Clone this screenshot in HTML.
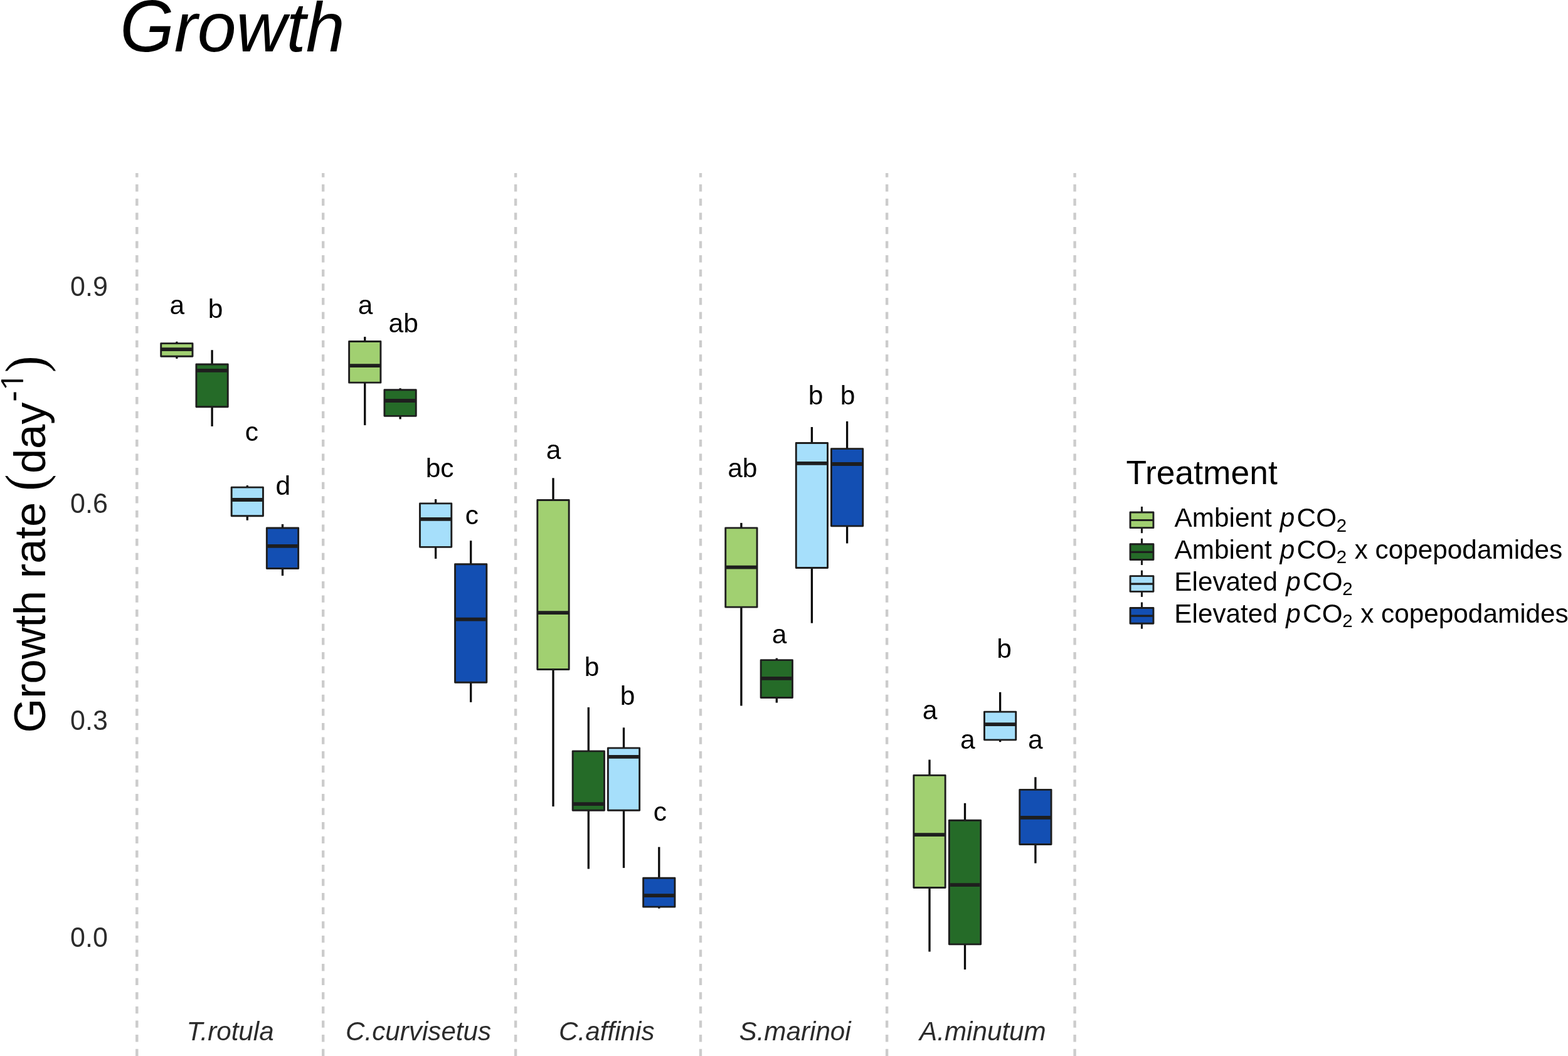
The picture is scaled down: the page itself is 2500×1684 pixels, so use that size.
<!DOCTYPE html>
<html><head><meta charset="utf-8"><title>Growth</title>
<style>html,body{margin:0;padding:0;background:#fff;width:2500px;height:1684px;overflow:hidden}svg{display:block}</style>
</head><body>
<svg width="2500" height="1684" viewBox="0 0 2500 1684">
<rect x="0" y="0" width="2500" height="1684" fill="#FFFFFF"/>
<text x="191.2" y="82.2" font-family='"Liberation Sans", Arial, Helvetica, sans-serif' font-style="italic" font-size="111.2" fill="#000"><tspan font-size="116.2" textLength="86.49" lengthAdjust="spacingAndGlyphs">G</tspan>rowth</text>
<line x1="218.3" y1="276.1" x2="218.3" y2="1700" stroke="#CCCCCC" stroke-width="4.4" stroke-dasharray="11.3 11.3" stroke-dashoffset="4.6"/>
<line x1="515.2" y1="276.1" x2="515.2" y2="1700" stroke="#CCCCCC" stroke-width="4.4" stroke-dasharray="11.3 11.3" stroke-dashoffset="4.6"/>
<line x1="822.1" y1="276.1" x2="822.1" y2="1700" stroke="#CCCCCC" stroke-width="4.4" stroke-dasharray="11.3 11.3" stroke-dashoffset="4.6"/>
<line x1="1117.0" y1="276.1" x2="1117.0" y2="1700" stroke="#CCCCCC" stroke-width="4.4" stroke-dasharray="11.3 11.3" stroke-dashoffset="4.6"/>
<line x1="1414.1" y1="276.1" x2="1414.1" y2="1700" stroke="#CCCCCC" stroke-width="4.4" stroke-dasharray="11.3 11.3" stroke-dashoffset="4.6"/>
<line x1="1713.6" y1="276.1" x2="1713.6" y2="1700" stroke="#CCCCCC" stroke-width="4.4" stroke-dasharray="11.3 11.3" stroke-dashoffset="4.6"/>
<text transform="translate(171.8,471.50) scale(1,1.05)" x="0" y="0" text-anchor="end" font-family='"Liberation Sans", Arial, Helvetica, sans-serif' font-size="43" fill="#2B2B2B">0.9</text>
<text transform="translate(171.8,817.70) scale(1,1.05)" x="0" y="0" text-anchor="end" font-family='"Liberation Sans", Arial, Helvetica, sans-serif' font-size="43" fill="#2B2B2B">0.6</text>
<text transform="translate(171.8,1163.90) scale(1,1.05)" x="0" y="0" text-anchor="end" font-family='"Liberation Sans", Arial, Helvetica, sans-serif' font-size="43" fill="#2B2B2B">0.3</text>
<text transform="translate(171.8,1510.10) scale(1,1.05)" x="0" y="0" text-anchor="end" font-family='"Liberation Sans", Arial, Helvetica, sans-serif' font-size="43" fill="#2B2B2B">0.0</text>
<line x1="281.85" y1="544.8" x2="281.85" y2="547.6500000000001" stroke="#0A0A0A" stroke-width="3.3"/>
<line x1="281.85" y1="568.3" x2="281.85" y2="571.9" stroke="#0A0A0A" stroke-width="3.3"/>
<rect x="256.70" y="547.65" width="50.30" height="20.65" fill="#A1D071" stroke="#1E1E1E" stroke-width="2.9" stroke-linejoin="round"/>
<line x1="256.70" y1="557.1" x2="307.00" y2="557.1" stroke="#1E1E1E" stroke-width="5.8"/>
<line x1="338.1" y1="558.2" x2="338.1" y2="580.95" stroke="#0A0A0A" stroke-width="3.3"/>
<line x1="338.1" y1="648.75" x2="338.1" y2="679.9" stroke="#0A0A0A" stroke-width="3.3"/>
<rect x="312.95" y="580.95" width="50.30" height="67.80" fill="#256B28" stroke="#1E1E1E" stroke-width="2.9" stroke-linejoin="round"/>
<line x1="312.95" y1="590.8" x2="363.25" y2="590.8" stroke="#1E1E1E" stroke-width="5.8"/>
<line x1="394.3" y1="774.1" x2="394.3" y2="777.1500000000001" stroke="#0A0A0A" stroke-width="3.3"/>
<line x1="394.3" y1="822.75" x2="394.3" y2="829.7" stroke="#0A0A0A" stroke-width="3.3"/>
<rect x="369.15" y="777.15" width="50.30" height="45.60" fill="#A6DFFB" stroke="#1E1E1E" stroke-width="2.9" stroke-linejoin="round"/>
<line x1="369.15" y1="797.0" x2="419.45" y2="797.0" stroke="#1E1E1E" stroke-width="5.8"/>
<line x1="450.5" y1="835.9" x2="450.5" y2="841.95" stroke="#0A0A0A" stroke-width="3.3"/>
<line x1="450.5" y1="906.55" x2="450.5" y2="918.1" stroke="#0A0A0A" stroke-width="3.3"/>
<rect x="425.35" y="841.95" width="50.30" height="64.60" fill="#134FB3" stroke="#1E1E1E" stroke-width="2.9" stroke-linejoin="round"/>
<line x1="425.35" y1="870.8" x2="475.65" y2="870.8" stroke="#1E1E1E" stroke-width="5.8"/>
<line x1="581.75" y1="537.1" x2="581.75" y2="544.45" stroke="#0A0A0A" stroke-width="3.3"/>
<line x1="581.75" y1="610.15" x2="581.75" y2="678.1" stroke="#0A0A0A" stroke-width="3.3"/>
<rect x="556.60" y="544.45" width="50.30" height="65.70" fill="#A1D071" stroke="#1E1E1E" stroke-width="2.9" stroke-linejoin="round"/>
<line x1="556.60" y1="583.2" x2="606.90" y2="583.2" stroke="#1E1E1E" stroke-width="5.8"/>
<line x1="638.1" y1="619.2" x2="638.1" y2="621.75" stroke="#0A0A0A" stroke-width="3.3"/>
<line x1="638.1" y1="663.3499999999999" x2="638.1" y2="668.4" stroke="#0A0A0A" stroke-width="3.3"/>
<rect x="612.95" y="621.75" width="50.30" height="41.60" fill="#256B28" stroke="#1E1E1E" stroke-width="2.9" stroke-linejoin="round"/>
<line x1="612.95" y1="639.0" x2="663.25" y2="639.0" stroke="#1E1E1E" stroke-width="5.8"/>
<line x1="694.65" y1="796.1" x2="694.65" y2="802.85" stroke="#0A0A0A" stroke-width="3.3"/>
<line x1="694.65" y1="872.3499999999999" x2="694.65" y2="891.0" stroke="#0A0A0A" stroke-width="3.3"/>
<rect x="669.50" y="802.85" width="50.30" height="69.50" fill="#A6DFFB" stroke="#1E1E1E" stroke-width="2.9" stroke-linejoin="round"/>
<line x1="669.50" y1="827.8" x2="719.80" y2="827.8" stroke="#1E1E1E" stroke-width="5.8"/>
<line x1="750.7" y1="862.2" x2="750.7" y2="899.75" stroke="#0A0A0A" stroke-width="3.3"/>
<line x1="750.7" y1="1088.25" x2="750.7" y2="1119.8" stroke="#0A0A0A" stroke-width="3.3"/>
<rect x="725.55" y="899.75" width="50.30" height="188.50" fill="#134FB3" stroke="#1E1E1E" stroke-width="2.9" stroke-linejoin="round"/>
<line x1="725.55" y1="987.6" x2="775.85" y2="987.6" stroke="#1E1E1E" stroke-width="5.8"/>
<line x1="882.0" y1="762.3" x2="882.0" y2="797.45" stroke="#0A0A0A" stroke-width="3.3"/>
<line x1="882.0" y1="1067.55" x2="882.0" y2="1286.1" stroke="#0A0A0A" stroke-width="3.3"/>
<rect x="856.85" y="797.45" width="50.30" height="270.10" fill="#A1D071" stroke="#1E1E1E" stroke-width="2.9" stroke-linejoin="round"/>
<line x1="856.85" y1="977.1" x2="907.15" y2="977.1" stroke="#1E1E1E" stroke-width="5.8"/>
<line x1="938.3" y1="1127.9" x2="938.3" y2="1197.8500000000001" stroke="#0A0A0A" stroke-width="3.3"/>
<line x1="938.3" y1="1292.25" x2="938.3" y2="1385.6" stroke="#0A0A0A" stroke-width="3.3"/>
<rect x="913.15" y="1197.85" width="50.30" height="94.40" fill="#256B28" stroke="#1E1E1E" stroke-width="2.9" stroke-linejoin="round"/>
<line x1="913.15" y1="1282.2" x2="963.45" y2="1282.2" stroke="#1E1E1E" stroke-width="5.8"/>
<line x1="994.5" y1="1160.3" x2="994.5" y2="1192.8500000000001" stroke="#0A0A0A" stroke-width="3.3"/>
<line x1="994.5" y1="1292.25" x2="994.5" y2="1384.1" stroke="#0A0A0A" stroke-width="3.3"/>
<rect x="969.35" y="1192.85" width="50.30" height="99.40" fill="#A6DFFB" stroke="#1E1E1E" stroke-width="2.9" stroke-linejoin="round"/>
<line x1="969.35" y1="1206.9" x2="1019.65" y2="1206.9" stroke="#1E1E1E" stroke-width="5.8"/>
<line x1="1050.8" y1="1350.7" x2="1050.8" y2="1400.25" stroke="#0A0A0A" stroke-width="3.3"/>
<line x1="1050.8" y1="1446.1499999999999" x2="1050.8" y2="1448.7" stroke="#0A0A0A" stroke-width="3.3"/>
<rect x="1025.65" y="1400.25" width="50.30" height="45.90" fill="#134FB3" stroke="#1E1E1E" stroke-width="2.9" stroke-linejoin="round"/>
<line x1="1025.65" y1="1428.1" x2="1075.95" y2="1428.1" stroke="#1E1E1E" stroke-width="5.8"/>
<line x1="1181.9" y1="833.9" x2="1181.9" y2="841.85" stroke="#0A0A0A" stroke-width="3.3"/>
<line x1="1181.9" y1="968.15" x2="1181.9" y2="1125.5" stroke="#0A0A0A" stroke-width="3.3"/>
<rect x="1156.75" y="841.85" width="50.30" height="126.30" fill="#A1D071" stroke="#1E1E1E" stroke-width="2.9" stroke-linejoin="round"/>
<line x1="1156.75" y1="904.7" x2="1207.05" y2="904.7" stroke="#1E1E1E" stroke-width="5.8"/>
<line x1="1238.3" y1="1049.6" x2="1238.3" y2="1052.65" stroke="#0A0A0A" stroke-width="3.3"/>
<line x1="1238.3" y1="1112.45" x2="1238.3" y2="1120.6" stroke="#0A0A0A" stroke-width="3.3"/>
<rect x="1213.15" y="1052.65" width="50.30" height="59.80" fill="#256B28" stroke="#1E1E1E" stroke-width="2.9" stroke-linejoin="round"/>
<line x1="1213.15" y1="1081.8" x2="1263.45" y2="1081.8" stroke="#1E1E1E" stroke-width="5.8"/>
<line x1="1294.4" y1="681.0" x2="1294.4" y2="706.5500000000001" stroke="#0A0A0A" stroke-width="3.3"/>
<line x1="1294.4" y1="905.55" x2="1294.4" y2="993.7" stroke="#0A0A0A" stroke-width="3.3"/>
<rect x="1269.25" y="706.55" width="50.30" height="199.00" fill="#A6DFFB" stroke="#1E1E1E" stroke-width="2.9" stroke-linejoin="round"/>
<line x1="1269.25" y1="738.8" x2="1319.55" y2="738.8" stroke="#1E1E1E" stroke-width="5.8"/>
<line x1="1350.6" y1="671.9" x2="1350.6" y2="715.6500000000001" stroke="#0A0A0A" stroke-width="3.3"/>
<line x1="1350.6" y1="838.8499999999999" x2="1350.6" y2="866.5" stroke="#0A0A0A" stroke-width="3.3"/>
<rect x="1325.45" y="715.65" width="50.30" height="123.20" fill="#134FB3" stroke="#1E1E1E" stroke-width="2.9" stroke-linejoin="round"/>
<line x1="1325.45" y1="740.0" x2="1375.75" y2="740.0" stroke="#1E1E1E" stroke-width="5.8"/>
<line x1="1482.0" y1="1211.5" x2="1482.0" y2="1236.3500000000001" stroke="#0A0A0A" stroke-width="3.3"/>
<line x1="1482.0" y1="1415.55" x2="1482.0" y2="1517.6" stroke="#0A0A0A" stroke-width="3.3"/>
<rect x="1456.85" y="1236.35" width="50.30" height="179.20" fill="#A1D071" stroke="#1E1E1E" stroke-width="2.9" stroke-linejoin="round"/>
<line x1="1456.85" y1="1331.1" x2="1507.15" y2="1331.1" stroke="#1E1E1E" stroke-width="5.8"/>
<line x1="1538.5" y1="1280.8" x2="1538.5" y2="1308.25" stroke="#0A0A0A" stroke-width="3.3"/>
<line x1="1538.5" y1="1505.85" x2="1538.5" y2="1546.1" stroke="#0A0A0A" stroke-width="3.3"/>
<rect x="1513.35" y="1308.25" width="50.30" height="197.60" fill="#256B28" stroke="#1E1E1E" stroke-width="2.9" stroke-linejoin="round"/>
<line x1="1513.35" y1="1411.1" x2="1563.65" y2="1411.1" stroke="#1E1E1E" stroke-width="5.8"/>
<line x1="1594.6" y1="1103.8" x2="1594.6" y2="1135.1000000000001" stroke="#0A0A0A" stroke-width="3.3"/>
<line x1="1594.6" y1="1179.85" x2="1594.6" y2="1183.2" stroke="#0A0A0A" stroke-width="3.3"/>
<rect x="1569.45" y="1135.10" width="50.30" height="44.75" fill="#A6DFFB" stroke="#1E1E1E" stroke-width="2.9" stroke-linejoin="round"/>
<line x1="1569.45" y1="1155.1" x2="1619.75" y2="1155.1" stroke="#1E1E1E" stroke-width="5.8"/>
<line x1="1650.9" y1="1239.3" x2="1650.9" y2="1259.3500000000001" stroke="#0A0A0A" stroke-width="3.3"/>
<line x1="1650.9" y1="1346.45" x2="1650.9" y2="1376.6" stroke="#0A0A0A" stroke-width="3.3"/>
<rect x="1625.75" y="1259.35" width="50.30" height="87.10" fill="#134FB3" stroke="#1E1E1E" stroke-width="2.9" stroke-linejoin="round"/>
<line x1="1625.75" y1="1303.8" x2="1676.05" y2="1303.8" stroke="#1E1E1E" stroke-width="5.8"/>
<text x="282.25" y="500.90" text-anchor="middle" font-family='"Liberation Sans", Arial, Helvetica, sans-serif' font-size="42.5" fill="#000">a</text>
<text x="343.45" y="506.80" text-anchor="middle" font-family='"Liberation Sans", Arial, Helvetica, sans-serif' font-size="42.5" fill="#000">b</text>
<text x="401.30" y="702.90" text-anchor="middle" font-family='"Liberation Sans", Arial, Helvetica, sans-serif' font-size="42.5" fill="#000">c</text>
<text x="451.30" y="789.00" text-anchor="middle" font-family='"Liberation Sans", Arial, Helvetica, sans-serif' font-size="42.5" fill="#000">d</text>
<text x="582.55" y="501.00" text-anchor="middle" font-family='"Liberation Sans", Arial, Helvetica, sans-serif' font-size="42.5" fill="#000">a</text>
<text x="643.20" y="529.80" text-anchor="middle" font-family='"Liberation Sans", Arial, Helvetica, sans-serif' font-size="42.5" fill="#000">ab</text>
<text x="701.10" y="760.80" text-anchor="middle" font-family='"Liberation Sans", Arial, Helvetica, sans-serif' font-size="42.5" fill="#000">bc</text>
<text x="752.25" y="835.80" text-anchor="middle" font-family='"Liberation Sans", Arial, Helvetica, sans-serif' font-size="42.5" fill="#000">c</text>
<text x="882.65" y="731.70" text-anchor="middle" font-family='"Liberation Sans", Arial, Helvetica, sans-serif' font-size="42.5" fill="#000">a</text>
<text x="943.60" y="1077.60" text-anchor="middle" font-family='"Liberation Sans", Arial, Helvetica, sans-serif' font-size="42.5" fill="#000">b</text>
<text x="1000.65" y="1123.90" text-anchor="middle" font-family='"Liberation Sans", Arial, Helvetica, sans-serif' font-size="42.5" fill="#000">b</text>
<text x="1052.35" y="1309.40" text-anchor="middle" font-family='"Liberation Sans", Arial, Helvetica, sans-serif' font-size="42.5" fill="#000">c</text>
<text x="1183.80" y="760.80" text-anchor="middle" font-family='"Liberation Sans", Arial, Helvetica, sans-serif' font-size="42.5" fill="#000">ab</text>
<text x="1242.60" y="1026.10" text-anchor="middle" font-family='"Liberation Sans", Arial, Helvetica, sans-serif' font-size="42.5" fill="#000">a</text>
<text x="1300.65" y="644.90" text-anchor="middle" font-family='"Liberation Sans", Arial, Helvetica, sans-serif' font-size="42.5" fill="#000">b</text>
<text x="1351.55" y="644.90" text-anchor="middle" font-family='"Liberation Sans", Arial, Helvetica, sans-serif' font-size="42.5" fill="#000">b</text>
<text x="1482.60" y="1147.30" text-anchor="middle" font-family='"Liberation Sans", Arial, Helvetica, sans-serif' font-size="42.5" fill="#000">a</text>
<text x="1542.70" y="1193.60" text-anchor="middle" font-family='"Liberation Sans", Arial, Helvetica, sans-serif' font-size="42.5" fill="#000">a</text>
<text x="1601.00" y="1049.40" text-anchor="middle" font-family='"Liberation Sans", Arial, Helvetica, sans-serif' font-size="42.5" fill="#000">b</text>
<text x="1650.75" y="1194.00" text-anchor="middle" font-family='"Liberation Sans", Arial, Helvetica, sans-serif' font-size="42.5" fill="#000">a</text>
<text x="367.10" y="1659.1" text-anchor="middle" font-family='"Liberation Sans", Arial, Helvetica, sans-serif' font-style="italic" font-size="42.2" fill="#2B2B2B">T.rotula</text>
<text x="667.10" y="1659.1" text-anchor="middle" font-family='"Liberation Sans", Arial, Helvetica, sans-serif' font-style="italic" font-size="42.2" fill="#2B2B2B">C.curvisetus</text>
<text x="967.30" y="1659.1" text-anchor="middle" font-family='"Liberation Sans", Arial, Helvetica, sans-serif' font-style="italic" font-size="42.2" fill="#2B2B2B">C.affinis</text>
<text x="1267.60" y="1659.1" text-anchor="middle" font-family='"Liberation Sans", Arial, Helvetica, sans-serif' font-style="italic" font-size="42.2" fill="#2B2B2B">S.marinoi</text>
<text x="1566.90" y="1659.1" text-anchor="middle" font-family='"Liberation Sans", Arial, Helvetica, sans-serif' font-style="italic" font-size="42.2" fill="#2B2B2B">A.minutum</text>
<g transform="translate(72.0,1169.0) rotate(-90)" font-family='"Liberation Sans", Arial, Helvetica, sans-serif' fill="#000">
<text x="0.4" y="0" font-size="70.4">Growth rate</text>
<text transform="translate(386.22,-2.0) scale(0.9,1)" x="0" y="0" font-size="88" font-family="'Liberation Serif', serif">(</text>
<text x="413.9" y="0" font-size="70.4">day</text>
<text x="528.25" y="-33.6" font-size="53">-</text>
<text transform="translate(542.19,-35.3) scale(1.25,1)" x="0" y="0" font-size="46.8" font-family="NanumGothic, 'Liberation Sans', sans-serif">1</text>
<text transform="translate(575.05,-2.0) scale(0.9,1)" x="0" y="0" font-size="88" font-family="'Liberation Serif', serif">)</text>
</g>
<text x="1795.4" y="771.6" font-family='"Liberation Sans", Arial, Helvetica, sans-serif' font-size="53.4" fill="#000">Treatment</text>
<line x1="1820.5" y1="807.90" x2="1820.5" y2="850.20" stroke="#1E1E1E" stroke-width="3.1"/>
<rect x="1802.05" y="816.95" width="36.90" height="24.70" fill="#A1D071" stroke="#1E1E1E" stroke-width="2.9" stroke-linejoin="round"/>
<line x1="1802.05" y1="829.50" x2="1838.95" y2="829.50" stroke="#1E1E1E" stroke-width="3.2"/>
<text y="840.3" font-family='"Liberation Sans", Arial, Helvetica, sans-serif' font-size="42.3" fill="#000"><tspan x="1872.6">Ambient </tspan><tspan x="2040.8" font-style="italic">p</tspan><tspan x="2067.6">CO</tspan><tspan x="2130.8" y="847.6" font-size="29.5">2 </tspan></text>
<line x1="1820.5" y1="858.75" x2="1820.5" y2="901.05" stroke="#1E1E1E" stroke-width="3.1"/>
<rect x="1802.05" y="867.80" width="36.90" height="24.70" fill="#256B28" stroke="#1E1E1E" stroke-width="2.9" stroke-linejoin="round"/>
<line x1="1802.05" y1="880.35" x2="1838.95" y2="880.35" stroke="#1E1E1E" stroke-width="3.2"/>
<text y="891.1" font-family='"Liberation Sans", Arial, Helvetica, sans-serif' font-size="42.3" fill="#000"><tspan x="1872.6">Ambient </tspan><tspan x="2040.8" font-style="italic">p</tspan><tspan x="2067.6">CO</tspan><tspan x="2130.8" y="898.4" font-size="29.5">2 </tspan><tspan x="2159.7" y="891.1">x copepodamides</tspan></text>
<line x1="1820.5" y1="909.60" x2="1820.5" y2="951.90" stroke="#1E1E1E" stroke-width="3.1"/>
<rect x="1802.05" y="918.65" width="36.90" height="24.70" fill="#A6DFFB" stroke="#1E1E1E" stroke-width="2.9" stroke-linejoin="round"/>
<line x1="1802.05" y1="931.20" x2="1838.95" y2="931.20" stroke="#1E1E1E" stroke-width="3.2"/>
<text y="942.0" font-family='"Liberation Sans", Arial, Helvetica, sans-serif' font-size="42.3" fill="#000"><tspan x="1872.3">Elevated </tspan><tspan x="2050.3" font-style="italic">p</tspan><tspan x="2077.1">CO</tspan><tspan x="2140.3" y="949.3" font-size="29.5">2 </tspan></text>
<line x1="1820.5" y1="960.45" x2="1820.5" y2="1002.75" stroke="#1E1E1E" stroke-width="3.1"/>
<rect x="1802.05" y="969.50" width="36.90" height="24.70" fill="#134FB3" stroke="#1E1E1E" stroke-width="2.9" stroke-linejoin="round"/>
<line x1="1802.05" y1="982.05" x2="1838.95" y2="982.05" stroke="#1E1E1E" stroke-width="3.2"/>
<text y="992.8" font-family='"Liberation Sans", Arial, Helvetica, sans-serif' font-size="42.3" fill="#000"><tspan x="1872.3">Elevated </tspan><tspan x="2050.3" font-style="italic">p</tspan><tspan x="2077.1">CO</tspan><tspan x="2140.3" y="1000.1" font-size="29.5">2 </tspan><tspan x="2169.2" y="992.8">x copepodamides</tspan></text>
</svg>
</body></html>
